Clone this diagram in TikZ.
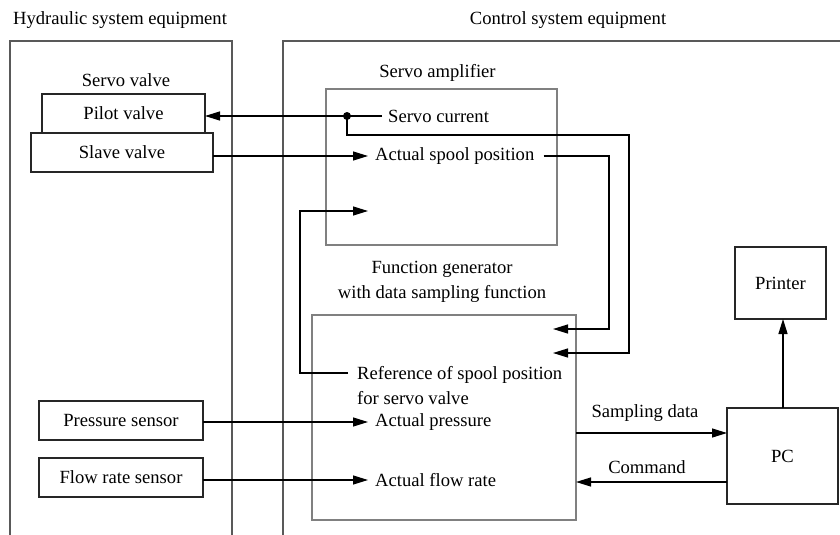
\documentclass[tikz,border=0pt]{standalone}
\usepackage{fontspec}
\setmainfont{Liberation Serif}
\usetikzlibrary{arrows.meta}
\tikzset{%
  tipA/.tip={Triangle[length=15pt,width=9pt]},
  blk/.style={draw=black!85,line width=1.3pt,outer sep=0pt},
  grp/.style={draw=black!65,line width=1.2pt},
  sub/.style={draw=black!50,line width=1.9pt,outer sep=0pt},
  lbl/.style={inner sep=0pt},
  sig/.style={line width=1.3pt,-tipA}
}

\begin{document}
\begin{tikzpicture}[x=1pt,y=-1pt,font=\fontsize{18.6}{25}\selectfont]
\useasboundingbox (0,0) rectangle (840,535);
% the two equipment regions
\draw[grp] (10,535) -- (10,41) -- (232,41) -- (232,535);
\draw[grp] (840,41) -- (283,41) -- (283,535);
\node[lbl] (hyd) at (120,20) {Hydraulic system equipment};
\node[lbl] (ctl) at (568,20) {Control system equipment};
% hydraulic side
\node[lbl] (sv) at (126,80) {Servo valve};
\node[blk,minimum width=163pt,minimum height=39pt] (pilot) at (123.5,113.5) {Pilot valve};
\node[blk,minimum width=182pt,minimum height=39pt] (slave) at (122,152.5) {Slave valve};
\node[blk,minimum width=164pt,minimum height=39pt] (pres) at (121,420.5) {Pressure sensor};
\node[blk,minimum width=164pt,minimum height=39pt] (flow) at (121,477.5) {Flow rate sensor};
% control side
\node[sub,minimum width=231pt,minimum height=156pt] (amp) at (441.5,167) {};
\node[lbl] (ampl) at (437.5,73) {Servo amplifier};
\node[sub,minimum width=264pt,minimum height=205pt] (gen) at (444,417.5) {};
\node[lbl,align=center] (genl) at (442,282) {Function generator\\with data sampling function};
\node[blk,minimum width=111pt,minimum height=96pt] (pc) at (782.5,456) {PC};
\node[blk,minimum width=91pt,minimum height=72pt] (prn) at (780.5,283) {Printer};
\node[lbl,anchor=west] (curr) at (388,116) {Servo current};
\node[lbl,anchor=west] (spool) at (375,156) {Actual spool position};
\node[lbl,anchor=west,align=left] (ref) at (357,385.5) {Reference of spool position\\for servo valve};
\node[lbl,anchor=west] (apres) at (375,422) {Actual pressure};
\node[lbl,anchor=west] (aflow) at (375,480) {Actual flow rate};
\coordinate (dot) at (347,116);
\coordinate (refin) at (368,211);
\coordinate (fb1) at (553,329);
\coordinate (fb2) at (553,353);
% signals
\fill (dot) circle (4pt);
\draw[line width=1.3pt] ([xshift=-6pt]curr.west) -- (dot);
\draw[sig] (dot) -- (dot -| pilot.east);
\draw[sig] (slave.east |- spool.west) -- ([xshift=-7pt]spool.west);
\draw[sig] ([xshift=9pt]spool.east) -| (609,329) -- (fb1);
\draw[sig] (dot) -- (347,135) -| (629,353) -- (fb2);
\draw[sig] ([xshift=-9pt]ref.west |- 0,373) -| (300,211) -- (refin);
\draw[sig] (pres.east |- apres.west) -- ([xshift=-7pt]apres.west);
\draw[sig] (flow.east |- aflow.west) -- ([xshift=-7pt]aflow.west);
\draw[sig] (gen.east |- 0,433) -- (pc.west |- 0,433);
\draw[sig] (pc.west |- 0,482) -- (gen.east |- 0,482);
\draw[sig] (pc.north -| 783,0) -- (prn.south -| 783,0);
\node[lbl] (samp) at (645,413) {Sampling data};
\node[lbl] (cmd) at (647,467) {Command};
\end{tikzpicture}
\end{document}
